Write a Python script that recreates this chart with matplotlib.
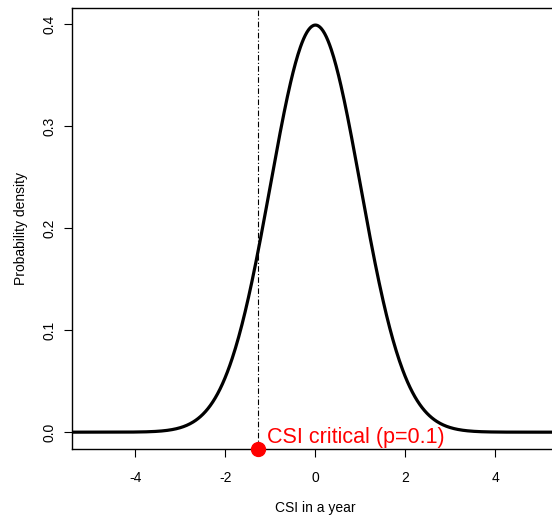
import numpy as np
import matplotlib.pyplot as plt

plt.rcParams['font.family'] = ['Liberation Sans', 'DejaVu Sans']

# distribution and critical value
mu = 0.0
sigma = 1.0
p_crit = 0.1
csi_crit = -1.2816   # qnorm(0.1)
x_ticks = [-4, -2, 0, 2, 4]
y_ticks = [0.0, 0.1, 0.2, 0.3, 0.4]
y_tick_labels = ['0.0', '0.1', '0.2', '0.3', '0.4']

x = np.linspace(-5.4, 5.4, 600)
dens = np.exp(-0.5 * ((x - mu) / sigma) ** 2) / (sigma * np.sqrt(2 * np.pi))

fig = plt.figure(figsize=(5.52, 5.18), dpi=100)
ax = fig.add_axes([0.131, 0.1332, 0.8808, 0.8508])

ax.plot(x, dens, color='black', lw=2.3)
ax.axvline(csi_crit, color='black', lw=0.8, ls=(0, (5, 2, 1, 2)))
y_low = -0.0165
ax.plot([csi_crit], [y_low], 'o', color='red', ms=10, clip_on=False, zorder=5)
ax.text(csi_crit + 0.2, -0.0105, 'CSI critical (p=0.1)', color='red',
        fontsize=15.5, va='baseline', ha='left')

ax.set_xlim(-5.4, 5.4)
ax.set_ylim(y_low, 0.4154)
ax.set_xticks(x_ticks)
ax.set_xticklabels([str(t) for t in x_ticks], fontsize=10)
ax.set_yticks(y_ticks)
ax.set_yticklabels(y_tick_labels, fontsize=10, rotation=90, va='center')
ax.tick_params(length=5.5, width=0.8)
ax.tick_params(axis='x', pad=10)
ax.tick_params(axis='y', pad=6)
for s in ax.spines.values():
    s.set_linewidth(1.0)

ax.set_xlabel('CSI in a year', fontsize=10, labelpad=12)
ax.set_ylabel('Probability density', fontsize=10, labelpad=10)

fig.savefig('out.png', dpi=100)
